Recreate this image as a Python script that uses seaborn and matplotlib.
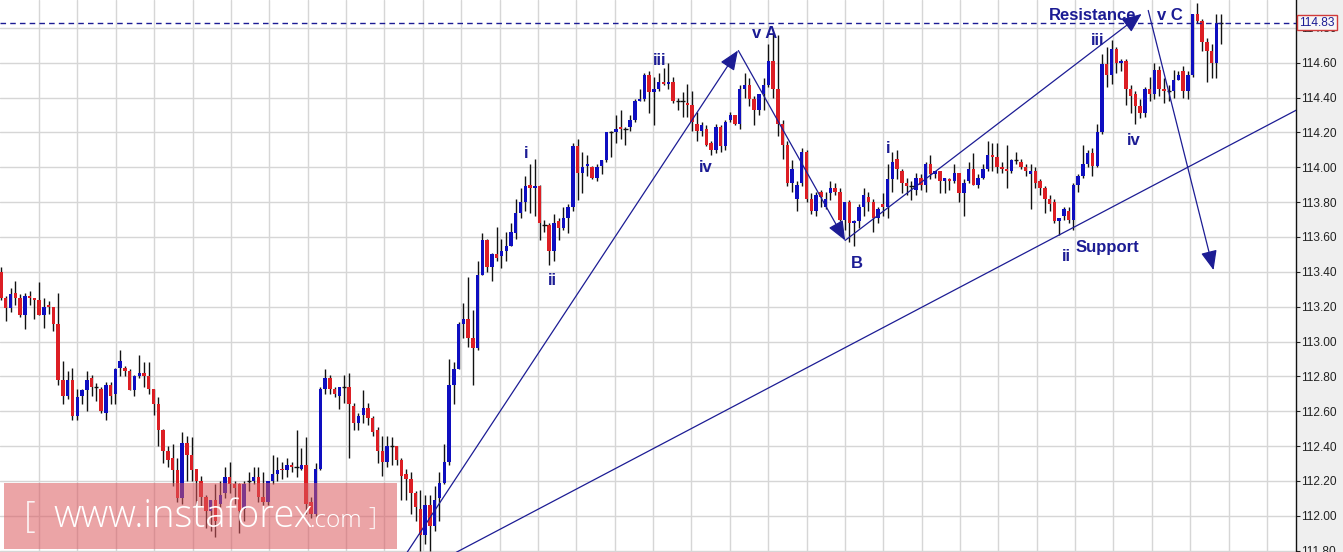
import numpy as np
import matplotlib
matplotlib.use("Agg")
import matplotlib.pyplot as plt
from matplotlib.patches import Rectangle
from matplotlib.transforms import blended_transform_factory
import seaborn as sns

# OHLC values, one candle per slot, left to right
opens = [
    113.40, 113.25, 113.19, 113.28, 113.25, 113.15, 113.26, 113.25, 113.24, 113.15,
    113.21, 113.20, 113.10, 112.78, 112.69, 112.78, 112.57, 112.69, 112.72, 112.79,
    112.74, 112.73, 112.59, 112.75, 112.70, 112.85, 112.85, 112.83, 112.72, 112.80,
    112.82, 112.80, 112.73, 112.64, 112.49, 112.37, 112.33, 112.26, 112.10, 112.42,
    112.35, 112.27, 112.20, 112.11, 112.03, 112.09, 112.07, 112.13, 112.22, 112.18,
    112.18, 112.04, 112.20, 112.20, 112.22, 112.11, 112.08, 112.20, 112.24, 112.27,
    112.26, 112.29, 112.28, 112.27, 112.29, 112.08, 112.01, 112.27, 112.73, 112.79,
    112.73, 112.69, 112.74, 112.74, 112.63, 112.53, 112.58, 112.62, 112.56, 112.49,
    112.37, 112.31, 112.40, 112.40, 112.32, 112.24, 112.21, 112.13, 112.04, 111.89,
    112.06, 111.94, 112.10, 112.19, 112.31, 112.75, 112.84, 113.10, 113.13, 113.02,
    112.96, 113.38, 113.58, 113.43, 113.50, 113.49, 113.52, 113.55, 113.62, 113.74,
    113.80, 113.90, 113.88, 113.89, 113.67, 113.67, 113.52, 113.69, 113.65, 113.71,
    113.77, 114.12, 113.97, 114.01, 114.00, 113.94, 114.01, 114.04, 114.20, 114.20,
    114.23, 114.22, 114.23, 114.27, 114.38, 114.39, 114.53, 114.43, 114.45, 114.49,
    114.48, 114.49, 114.38, 114.38, 114.37, 114.36, 114.25, 114.21, 114.22, 114.14,
    114.10, 114.23, 114.12, 114.27, 114.30, 114.25, 114.45, 114.47, 114.39, 114.33,
    114.42, 114.47, 114.61, 114.45, 114.25, 114.13, 113.91, 113.82, 113.91, 114.09,
    113.82, 113.75, 113.86, 113.77, 113.85, 113.88, 113.86, 113.70, 113.80, 113.68,
    113.69, 113.77, 113.83, 113.80, 113.71, 113.79, 113.77, 113.93, 114.05, 113.98,
    113.91, 113.89, 113.87, 113.94, 113.90, 114.02, 113.96, 113.98, 113.92, 113.93,
    113.92, 113.97, 113.85, 113.92, 113.99, 113.90, 113.94, 113.99, 114.07, 114.06,
    114.00, 113.99, 113.98, 114.04, 114.03, 114.00, 113.96, 113.98, 113.92, 113.88,
    113.82, 113.80, 113.69, 113.72, 113.75, 113.70, 113.90, 113.95, 114.02, 114.08,
    114.01, 114.20, 114.59, 114.53, 114.68, 114.60, 114.61, 114.45, 114.42, 114.35,
    114.31, 114.45, 114.42, 114.56, 114.45, 114.44, 114.44, 114.50, 114.55, 114.44,
    114.53, 114.88, 114.84, 114.72, 114.67, 114.60, 114.83,
]
highs = [
    113.43, 113.26, 113.31, 113.35, 113.27, 113.28, 113.29, 113.25, 113.34, 113.25,
    113.23, 113.20, 113.28, 112.89, 112.83, 112.85, 112.73, 112.73, 112.83, 112.81,
    112.76, 112.74, 112.77, 112.77, 112.85, 112.95, 112.86, 112.84, 112.81, 112.92,
    112.88, 112.88, 112.73, 112.68, 112.50, 112.40, 112.41, 112.33, 112.48, 112.46,
    112.45, 112.27, 112.23, 112.12, 112.09, 112.18, 112.20, 112.28, 112.31, 112.20,
    112.19, 112.20, 112.25, 112.28, 112.28, 112.25, 112.20, 112.35, 112.34, 112.31,
    112.33, 112.31, 112.49, 112.39, 112.45, 112.11, 112.30, 112.74, 112.84, 112.81,
    112.74, 112.74, 112.81, 112.82, 112.65, 112.59, 112.72, 112.65, 112.57, 112.51,
    112.46, 112.46, 112.45, 112.40, 112.33, 112.27, 112.25, 112.14, 112.15, 112.12,
    112.12, 112.17, 112.25, 112.41, 112.90, 112.88, 113.11, 113.22, 113.37, 113.18,
    113.46, 113.62, 113.59, 113.51, 113.66, 113.59, 113.63, 113.68, 113.82, 113.88,
    113.95, 114.02, 114.05, 113.90, 113.70, 113.68, 113.73, 113.71, 113.77, 113.79,
    114.14, 114.16, 114.09, 114.07, 114.01, 114.02, 114.04, 114.20, 114.21, 114.30,
    114.33, 114.23, 114.30, 114.39, 114.45, 114.54, 114.55, 114.52, 114.54, 114.57,
    114.60, 114.52, 114.40, 114.43, 114.48, 114.44, 114.32, 114.26, 114.24, 114.15,
    114.25, 114.24, 114.27, 114.32, 114.30, 114.47, 114.54, 114.51, 114.41, 114.42,
    114.51, 114.71, 114.77, 114.76, 114.27, 114.15, 114.04, 113.92, 114.11, 114.10,
    113.85, 113.86, 113.87, 113.86, 113.92, 113.91, 113.88, 113.80, 113.81, 113.70,
    113.79, 113.88, 113.86, 113.82, 113.77, 113.85, 114.02, 114.09, 114.10, 113.99,
    113.94, 113.92, 113.97, 113.96, 114.03, 114.07, 113.98, 113.98, 113.94, 113.94,
    114.02, 113.97, 113.93, 114.03, 114.08, 113.96, 114.02, 114.15, 114.14, 114.14,
    114.03, 114.13, 114.05, 114.09, 114.05, 114.02, 114.02, 114.00, 113.93, 113.89,
    113.84, 113.82, 113.71, 113.77, 113.77, 113.91, 113.96, 114.13, 114.10, 114.11,
    114.25, 114.65, 114.69, 114.73, 114.69, 114.62, 114.62, 114.47, 114.44, 114.39,
    114.46, 114.52, 114.60, 114.58, 114.51, 114.47, 114.56, 114.55, 114.58, 114.55,
    114.88, 114.94, 114.85, 114.74, 114.71, 114.88, 114.88,
]
lows = [
    113.24, 113.12, 113.17, 113.21, 113.14, 113.07, 113.21, 113.13, 113.15, 113.08,
    113.16, 113.06, 112.75, 112.64, 112.67, 112.55, 112.55, 112.64, 112.60, 112.69,
    112.66, 112.59, 112.55, 112.64, 112.64, 112.80, 112.80, 112.72, 112.69, 112.79,
    112.74, 112.70, 112.58, 112.40, 112.30, 112.28, 112.17, 112.08, 112.07, 112.20,
    112.20, 112.05, 112.05, 111.93, 111.91, 111.88, 112.05, 112.10, 112.13, 112.07,
    111.90, 111.97, 112.14, 112.18, 112.08, 112.06, 112.06, 112.18, 112.20, 112.21,
    112.22, 112.25, 112.22, 112.26, 112.01, 111.99, 112.00, 112.26, 112.70, 112.70,
    112.68, 112.61, 112.65, 112.33, 112.49, 112.49, 112.53, 112.52, 112.46, 112.30,
    112.23, 112.28, 112.29, 112.29, 112.09, 112.09, 112.01, 111.97, 111.80, 111.84,
    111.80, 111.91, 111.97, 112.18, 112.29, 112.64, 112.84, 113.02, 112.97, 112.75,
    112.95, 113.38, 113.40, 113.35, 113.46, 113.42, 113.46, 113.55, 113.59, 113.71,
    113.75, 113.74, 113.72, 113.58, 113.63, 113.44, 113.46, 113.58, 113.64, 113.62,
    113.75, 113.81, 113.85, 113.95, 113.93, 113.92, 113.96, 114.03, 114.06, 114.14,
    114.16, 114.13, 114.21, 114.26, 114.38, 114.38, 114.31, 114.24, 114.44, 114.47,
    114.45, 114.37, 114.33, 114.29, 114.29, 114.21, 114.15, 114.18, 114.12, 114.07,
    114.08, 114.09, 114.10, 114.26, 114.24, 114.22, 114.40, 114.35, 114.24, 114.30,
    114.33, 114.46, 114.40, 114.18, 114.05, 113.89, 113.86, 113.75, 113.89, 113.80,
    113.73, 113.72, 113.77, 113.76, 113.81, 113.84, 113.69, 113.64, 113.57, 113.55,
    113.65, 113.72, 113.75, 113.63, 113.68, 113.72, 113.71, 113.86, 113.93, 113.85,
    113.84, 113.81, 113.84, 113.87, 113.86, 113.93, 113.94, 113.85, 113.85, 113.87,
    113.91, 113.80, 113.72, 113.91, 113.90, 113.88, 113.93, 113.98, 113.98, 113.97,
    113.97, 113.88, 113.97, 114.02, 113.99, 113.95, 113.76, 113.88, 113.84, 113.74,
    113.75, 113.68, 113.61, 113.70, 113.68, 113.64, 113.86, 113.94, 114.00, 113.95,
    114.00, 114.19, 114.46, 114.48, 114.54, 114.55, 114.36, 114.31, 114.25, 114.28,
    114.29, 114.38, 114.39, 114.41, 114.37, 114.38, 114.40, 114.50, 114.40, 114.39,
    114.52, 114.83, 114.67, 114.49, 114.51, 114.51, 114.71,
]
closes = [
    113.25, 113.19, 113.27, 113.25, 113.15, 113.26, 113.25, 113.24, 113.15, 113.20,
    113.20, 113.10, 112.78, 112.69, 112.78, 112.57, 112.68, 112.72, 112.78, 112.74,
    112.74, 112.60, 112.75, 112.69, 112.84, 112.89, 112.83, 112.72, 112.80, 112.82,
    112.80, 112.73, 112.64, 112.49, 112.37, 112.32, 112.26, 112.10, 112.42, 112.35,
    112.26, 112.20, 112.11, 112.03, 112.09, 111.97, 112.12, 112.22, 112.18, 112.16,
    112.03, 112.18, 112.20, 112.22, 112.11, 112.08, 112.20, 112.24, 112.26, 112.26,
    112.29, 112.28, 112.28, 112.29, 112.07, 112.01, 112.27, 112.73, 112.79, 112.73,
    112.70, 112.74, 112.74, 112.64, 112.53, 112.57, 112.62, 112.56, 112.48, 112.37,
    112.31, 112.40, 112.40, 112.32, 112.23, 112.21, 112.13, 112.05, 111.89, 112.06,
    111.94, 112.09, 112.19, 112.31, 112.75, 112.84, 113.10, 113.13, 113.02, 112.96,
    113.38, 113.58, 113.43, 113.50, 113.48, 113.52, 113.55, 113.63, 113.74, 113.80,
    113.89, 113.88, 113.89, 113.68, 113.67, 113.52, 113.68, 113.65, 113.71, 113.77,
    114.12, 113.97, 114.00, 114.02, 113.94, 114.00, 114.04, 114.20, 114.20, 114.22,
    114.22, 114.22, 114.27, 114.38, 114.39, 114.53, 114.43, 114.45, 114.49, 114.48,
    114.49, 114.38, 114.38, 114.38, 114.36, 114.26, 114.21, 114.24, 114.13, 114.10,
    114.23, 114.12, 114.26, 114.30, 114.25, 114.45, 114.47, 114.39, 114.33, 114.42,
    114.47, 114.61, 114.45, 114.25, 114.13, 113.91, 113.99, 113.90, 114.09, 113.82,
    113.75, 113.84, 113.83, 113.82, 113.88, 113.86, 113.70, 113.80, 113.68, 113.69,
    113.77, 113.84, 113.80, 113.71, 113.76, 113.77, 113.93, 114.03, 113.99, 113.91,
    113.89, 113.89, 113.94, 113.90, 114.02, 113.96, 113.98, 113.92, 113.94, 113.92,
    113.97, 113.85, 113.91, 113.99, 113.90, 113.94, 113.99, 114.07, 114.06, 114.00,
    113.99, 113.98, 114.04, 114.04, 114.00, 113.98, 113.98, 113.91, 113.88, 113.82,
    113.79, 113.69, 113.71, 113.76, 113.70, 113.90, 113.95, 114.02, 114.08, 114.01,
    114.20, 114.59, 114.53, 114.68, 114.60, 114.61, 114.45, 114.41, 114.35, 114.31,
    114.45, 114.42, 114.56, 114.45, 114.44, 114.44, 114.50, 114.53, 114.44, 114.53,
    114.88, 114.84, 114.72, 114.67, 114.60, 114.83, 114.83,
]

last_price = 114.83
price_ticks = [111.80, 112.00, 112.20, 112.40, 112.60, 112.80, 113.00, 113.20,
               113.40, 113.60, 113.80, 114.00, 114.20, 114.40, 114.60, 114.80]

# wave labels: (text, candle index, price)
wave_labels = [
    ("i", 110.2, 114.08), ("ii", 115.6, 113.35), ("iii", 138.1, 114.615),
    ("iv", 147.9, 114.0), ("v A", 160.3, 114.77), ("B", 179.6, 113.45),
    ("i", 186.1, 114.11), ("ii", 223.5, 113.49), ("Support", 232.1, 113.54),
    ("iii", 230.0, 114.73), ("iv", 237.7, 114.156),
    ("Resistance", 229.0, 114.87), ("v C", 245.3, 114.87),
]
# arrows drawn on the chart: (start, end) in (candle index, price)
arrows = [
    ((84.0, 111.74), (154.6, 114.67)),
    ((154.7, 114.67), (177.1, 113.58)),
    ((177.1, 113.58), (239.3, 114.88)),
    ((240.7, 114.90), (254.4, 113.41)),
]
support_x = [95.5, 272.6]
support_y = [111.79, 114.34]

NAVY = "#1c1c94"
RED = "#dc1e24"
BLUE = "#0e0ec0"

sns.set_theme(style="white")
plt.rcParams["font.family"] = ["Liberation Sans", "DejaVu Sans"]

W, H = 1343, 552
fig = plt.figure(figsize=(W / 100, H / 100), dpi=100)
fig.patch.set_facecolor("#efefef")
ax = fig.add_axes([0, 0, 1296 / W, 1])
ax.set_facecolor("white")

o = np.array(opens)
h = np.array(highs)
l = np.array(lows)
c = np.array(closes)
h = np.maximum(h, np.maximum(o, c))
l = np.minimum(l, np.minimum(o, c))
idx = np.arange(len(o))

# wicks
ax.vlines(idx, l, h, color="#111111", lw=1, zorder=3)

# bodies
up = c > o
down = c < o
flat = c == o
bottom = np.minimum(o, c)
height = np.abs(c - o)
ax.bar(idx[up], height[up], bottom=bottom[up], width=0.72, color=BLUE,
       linewidth=0, zorder=4)
ax.bar(idx[down], height[down], bottom=bottom[down], width=0.72, color=RED,
       linewidth=0, zorder=4)
ax.hlines(o[flat], idx[flat] - 0.45, idx[flat] + 0.45, color="#111111",
          lw=1, zorder=4)

# support line and arrows
sns.lineplot(x=support_x, y=support_y, ax=ax, color=NAVY, lw=0.9,
             zorder=5, legend=False)
for start, end in arrows:
    ax.annotate("", xy=end, xytext=start,
                arrowprops=dict(arrowstyle="-|>,head_length=1.2,head_width=0.5",
                                color=NAVY, lw=0.9, mutation_scale=10,
                                shrinkA=0, shrinkB=0),
                zorder=6)

ax.axhline(last_price, color=NAVY, lw=1, ls=(0, (4, 3)), zorder=5)

for txt, xi, yi in wave_labels:
    ax.text(xi, yi, txt, color=NAVY, fontsize=12, fontweight="bold",
            ha="center", va="center", zorder=7)

# axes and grid
ax.set_xlim(-0.21, 271.7)
ax.set_ylim(111.792, 114.96)
ax.set_xticks(8 + 8.05 * np.arange(33))
ax.set_xticklabels([])
ax.set_yticks(price_ticks)
ax.set_yticklabels([f"{t:.2f}" for t in price_ticks])
ax.yaxis.tick_right()
ax.tick_params(axis="x", length=0)
ax.tick_params(axis="y", direction="out", length=3, width=0.8, color="#222222",
               pad=0.5, labelsize=8.6, labelcolor="#222222")
ax.grid(True, color="#d6d6d6", lw=1)
ax.set_axisbelow(True)
for side in ["top", "left", "bottom"]:
    ax.spines[side].set_visible(False)
ax.spines["right"].set_color("#111111")
ax.spines["right"].set_linewidth(1)

trans = blended_transform_factory(ax.transAxes, ax.transData)
ax.text(1.0025, last_price, f"{last_price:.2f}", transform=trans,
        ha="left", va="center", fontsize=8.6, color=NAVY, clip_on=False,
        zorder=20,
        bbox=dict(boxstyle="square,pad=0.15", fc="#f7f7f7", ec="#d03a3a", lw=1))

# watermark
fig.add_artist(Rectangle((4 / W, 3 / H), 393 / W, 66 / H,
                         transform=fig.transFigure, facecolor=(0.86, 0.35, 0.37),
                         alpha=0.55, edgecolor="none", zorder=10))
base = (H - 527) / H
fig.text(24 / W, base, "[", fontsize=26, color="white", alpha=0.85,
         family="Open Sans", fontweight="light", va="baseline", zorder=11)
fig.text(53 / W, base, "www.instaforex", fontsize=27.5, color="white",
         family="Open Sans", fontweight="light", va="baseline", zorder=11)
fig.text(309 / W, base, ".com", fontsize=17.5, color="white",
         family="Open Sans", fontweight="light", va="baseline", zorder=11)
fig.text(368 / W, base + 2 / H, "]", fontsize=18, color="white", alpha=0.85,
         family="Open Sans", fontweight="light", va="baseline", zorder=11)

fig.savefig("out.png", dpi=100, facecolor=fig.get_facecolor())
